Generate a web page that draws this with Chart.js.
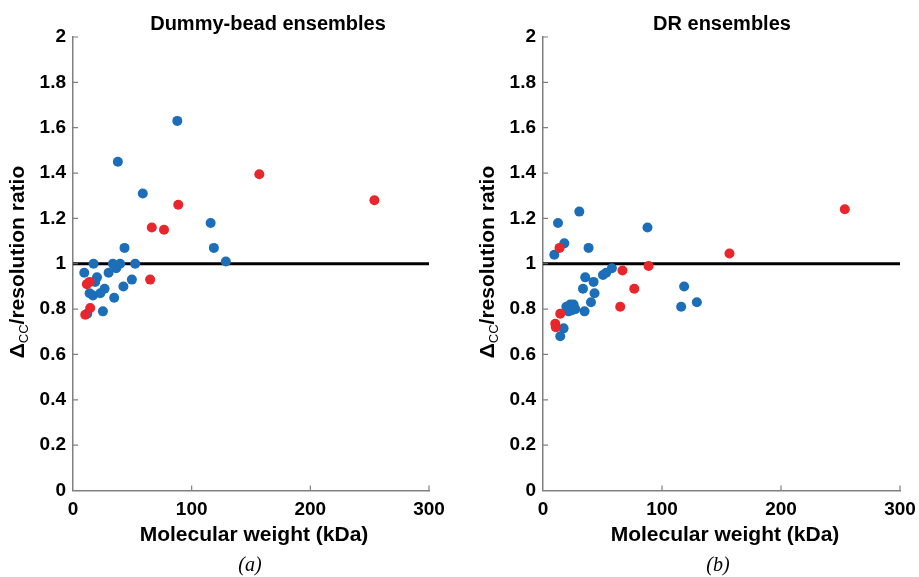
<!DOCTYPE html>
<html>
<head>
<meta charset="utf-8">
<script src="https://cdn.jsdelivr.net/npm/chart.js@4.4.0/dist/chart.umd.min.js"></script>
<style>
body { margin: 0; background: #fff; width: 919px; height: 577px; position: relative; overflow: hidden; }
canvas { position: absolute; top: 0; }
#chartA { left: 0; }
#chartB { left: 460px; }
</style>
</head>
<body>
<canvas id="chartA" width="460" height="577"></canvas>
<canvas id="chartB" width="459" height="577"></canvas>
<script>
// ---- data (x = kDa, y = ratio) ----
const dbBlueX = [9.5, 17.3, 20.2, 18.7, 14, 16.8, 23, 26.6, 30, 33.6, 36.4, 39.7, 52.4, 43.4, 42.5, 34.7, 25.2, 49.6, 12, 37.8, 58.8, 87.9, 116, 118.7, 128.8]
const dbBlueY = [0.96, 1.00, 0.94, 0.92, 0.87, 0.86, 0.87, 0.89, 0.96, 1.00, 0.98, 1.00, 1.00, 1.07, 0.90, 0.85, 0.79, 0.93, 0.78, 1.45, 1.31, 1.63, 1.18, 1.07, 1.01]
const dbRedX = [11.7, 14, 10.3, 14.5, 65, 66.4, 76.7, 88.7, 157, 254]
const dbRedY = [0.91, 0.92, 0.775, 0.805, 0.93, 1.16, 1.15, 1.26, 1.395, 1.28]

const drBlueX = [9.5, 12.6, 17.9, 30.5, 38.3, 87.8, 14.5, 17.3, 19.6, 22.9, 25.7, 21.5, 24.4, 27.1, 34.9, 33.6, 35.5, 42.5, 43.3, 40.3, 50.4, 53.1, 57.9, 118.6, 116.1, 129.3]
const drBlueY = [1.04, 1.18, 1.09, 1.23, 1.07, 1.16, 0.68, 0.715, 0.81, 0.82, 0.82, 0.79, 0.795, 0.80, 0.79, 0.89, 0.94, 0.92, 0.87, 0.83, 0.95, 0.96, 0.98, 0.90, 0.81, 0.83]
const drRedX = [13.9, 14.5, 10.3, 10.8, 66.8, 88.7, 76.7, 64.9, 156.7, 253.6]
const drRedY = [1.07, 0.78, 0.735, 0.72, 0.97, 0.99, 0.89, 0.81, 1.045, 1.24]

const refX = [0, 300]
const refY = [1, 1]

const blue = '#1c6eb8'
const red = '#e8262b'
const axisColor = '#808080'
const fam = '"Liberation Sans", Arial, sans-serif'

function pts(xs, ys) { return xs.map((x, i) => ({ x: x, y: ys[i] })) }

/*========================== text + inward ticks =============================*/
const framePlugin = {
    id: 'frame',
    afterDraw(chart, args, opts) {
        const ctx = chart.ctx, xs = chart.scales.x, ys = chart.scales.y
        ctx.save()
        ctx.strokeStyle = axisColor
        ctx.lineWidth = 1.2
        ctx.beginPath()
        xs.ticks.forEach(t => {
            if (t.value === 0) return
            const px = xs.getPixelForValue(t.value)
            ctx.moveTo(px, ys.bottom); ctx.lineTo(px, ys.bottom - 5)
        })
        ys.ticks.forEach(t => {
            if (t.value === 0) return
            const py = ys.getPixelForValue(t.value)
            ctx.moveTo(xs.left, py); ctx.lineTo(xs.left + 5, py)
        })
        ctx.stroke()

        ctx.fillStyle = '#000'
        ctx.textAlign = 'center'
        ctx.textBaseline = 'middle'
        ctx.font = 'bold 20px ' + fam
        ctx.fillText(opts.title, opts.titleX, 24)
        ctx.font = 'bold 21px ' + fam
        ctx.fillText('Molecular weight (kDa)', opts.xTitleX, 535)
        ctx.font = 'italic 20px "Liberation Serif", "Times New Roman", serif'
        ctx.fillText(opts.caption, opts.captionX, 566)

        // y title with subscript
        ctx.translate(opts.yTitleX, 262)
        ctx.rotate(-Math.PI / 2)
        const big = 'bold 21px ' + fam, small = '13px ' + fam
        ctx.font = big
        const w1 = ctx.measureText('\u0394').width
        const w3 = ctx.measureText('/resolution ratio').width
        ctx.font = small
        const w2 = ctx.measureText('CC').width
        let cx = -(w1 + w2 + w3) / 2
        ctx.textAlign = 'left'
        ctx.textBaseline = 'alphabetic'
        ctx.font = big; ctx.fillText('\u0394', cx, 7); cx += w1
        ctx.font = small; ctx.fillText('CC', cx, 11); cx += w2
        ctx.font = big; ctx.fillText('/resolution ratio', cx, 7)
        ctx.restore()
    }
}

function makeChart(id, bluePts, redPts, o) {
    return new Chart(document.getElementById(id), {
        type: 'scatter',
        data: {
            datasets: [
                { label: 'red', data: redPts, backgroundColor: red, borderColor: red, borderWidth: 0, pointRadius: 5, order: 0 },
                { label: 'blue', data: bluePts, backgroundColor: blue, borderColor: blue, borderWidth: 0, pointRadius: 5, order: 1 },
                { type: 'line', label: 'ref', data: pts(refX, refY), borderColor: '#000', borderWidth: 3, pointRadius: 0, order: 2 }
            ]
        },
        options: {
            responsive: false,
            animation: false,
            layout: { padding: { left: 0, right: o.right, top: 37, bottom: 0 } },
            plugins: {
                legend: { display: false },
                tooltip: { enabled: false },
                frame: o
            },
            scales: {
                x: {
                    type: 'linear', min: 0, max: 300,
                    ticks: { stepSize: 100, padding: 8, color: '#000', font: { family: fam, size: 19, weight: 'bold' }, maxRotation: 0 },
                    grid: { display: false, drawTicks: false },
                    border: { color: axisColor, width: 1.5 },
                    afterFit: s => { s.height = 86.5; s.paddingLeft = 0; s.paddingRight = 0 }
                },
                y: {
                    min: 0, max: 2,
                    ticks: { stepSize: 0.2, padding: 7, color: '#000', font: { family: fam, size: 19, weight: 'bold' },
                             callback: v => String(+v.toFixed(1)) },
                    grid: { display: false, drawTicks: false },
                    border: { color: axisColor, width: 1.5 },
                    afterFit: s => { s.width = o.yWidth; s.paddingTop = 0; s.paddingBottom = 0 }
                }
            }
        },
        plugins: [framePlugin]
    })
}

var chartA = makeChart('chartA', pts(dbBlueX, dbBlueY), pts(dbRedX, dbRedY), {
    right: 31, yWidth: 73,
    title: 'Dummy-bead ensembles', titleX: 268,
    xTitleX: 254, yTitleX: 17, caption: '(a)', captionX: 250
})
var chartB = makeChart('chartB', pts(drBlueX, drBlueY), pts(drRedX, drRedY), {
    right: 19, yWidth: 83,
    title: 'DR ensembles', titleX: 262,
    xTitleX: 265, yTitleX: 27, caption: '(b)', captionX: 258
})
</script>
</body>
</html>
